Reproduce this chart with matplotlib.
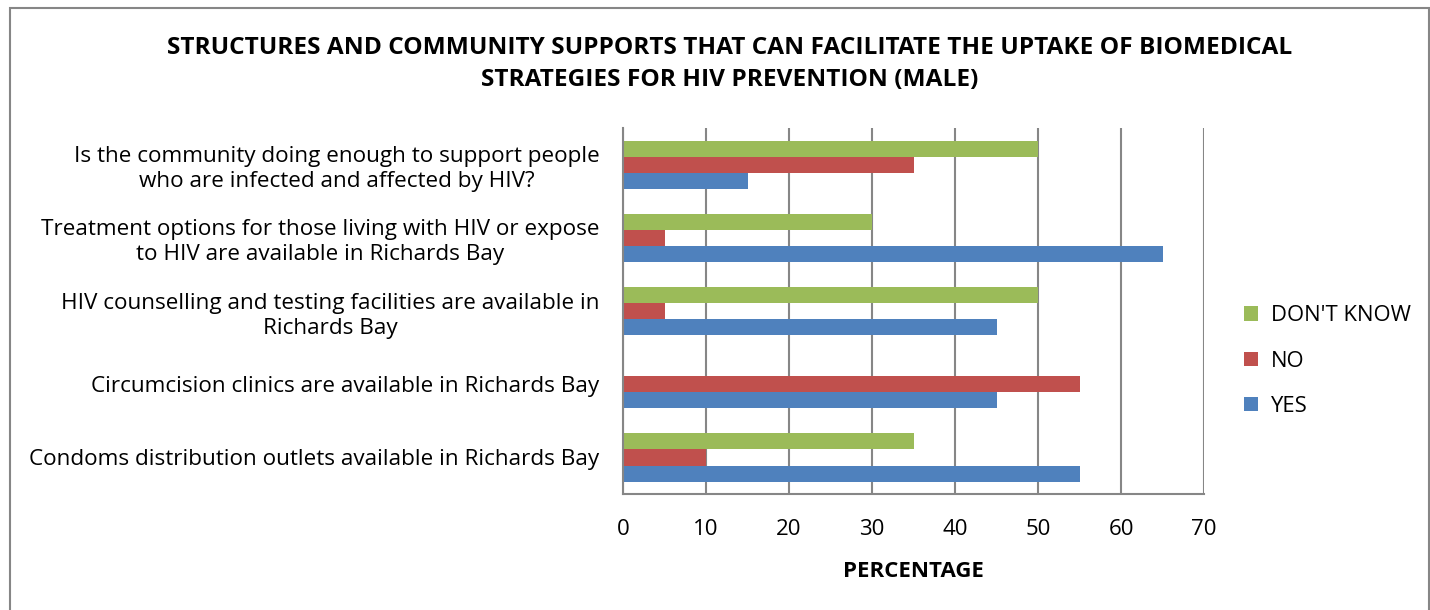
import numpy as np
import matplotlib.pyplot as plt
from matplotlib.patches import Rectangle

plt.rcParams['font.family'] = ['Open Sans', 'DejaVu Sans']

categories = [
    "Condoms distribution outlets available in Richards Bay",
    "Circumcision clinics are available in Richards Bay",
    "HIV counselling and testing facilities are available in\nRichards Bay",
    "Treatment options for those living with HIV or expose\nto HIV are available in Richards Bay",
    "Is the community doing enough to support people\nwho are infected and affected by HIV?",
]
yes_vals = [55, 45, 45, 65, 15]
no_vals = [10, 55, 5, 5, 35]
dont_know_vals = [35, 0, 50, 30, 50]
x_ticks = [0, 10, 20, 30, 40, 50, 60, 70]

c_yes = '#4F81BD'
c_no = '#C0504D'
c_dk = '#9BBB59'

fig = plt.figure(figsize=(14.3, 6.1), dpi=100)
ax = fig.add_axes([0.4357, 0.190, 0.4063, 0.600])

y = np.arange(len(categories))
h = 0.22
ax.barh(y - h, yes_vals, height=h, color=c_yes, label='YES')
ax.barh(y, no_vals, height=h, color=c_no, label='NO')
ax.barh(y + h, dont_know_vals, height=h, color=c_dk, label="DON'T KNOW")

ax.set_xlim(0, 70)
ax.set_ylim(-0.5, 4.5)
ax.set_xticks(x_ticks)
ax.set_yticks(y)
ax.set_yticklabels(categories, fontsize=16.2, ha='right', multialignment='center',
                   linespacing=1.25)
ax.tick_params(axis='x', labelsize=16, length=0, pad=18)
ax.tick_params(axis='y', length=0, pad=17)
ax.grid(axis='x', color='#868686', linewidth=1.5)
ax.set_axisbelow(True)
for s in ['top', 'right']:
    ax.spines[s].set_visible(False)
ax.spines['left'].set_color('#868686')
ax.spines['left'].set_linewidth(1.5)
ax.spines['bottom'].set_color('#868686')
ax.spines['bottom'].set_linewidth(1.5)
ax.set_xlabel('PERCENTAGE', fontsize=16, fontweight='bold', labelpad=15)

fig.text(0.510, 0.895, "STRUCTURES AND COMMUNITY SUPPORTS THAT CAN FACILITATE THE UPTAKE OF BIOMEDICAL\nSTRATEGIES FOR HIV PREVENTION (MALE)",
         ha='center', va='center', fontsize=17.6, fontweight='bold', linespacing=1.45)

handles, labels = ax.get_legend_handles_labels()
fig.legend(handles[::-1], labels[::-1], loc='center left', bbox_to_anchor=(0.856, 0.408),
           frameon=False, fontsize=15.8, handlelength=0.65, handleheight=0.65,
           labelspacing=1.1, handletextpad=0.6)

fig.patches.append(Rectangle((0.007, -0.1), 0.992, 1.087, transform=fig.transFigure,
                             fill=False, edgecolor='#868686', linewidth=1.5))

fig.savefig('out.png', dpi=100)
